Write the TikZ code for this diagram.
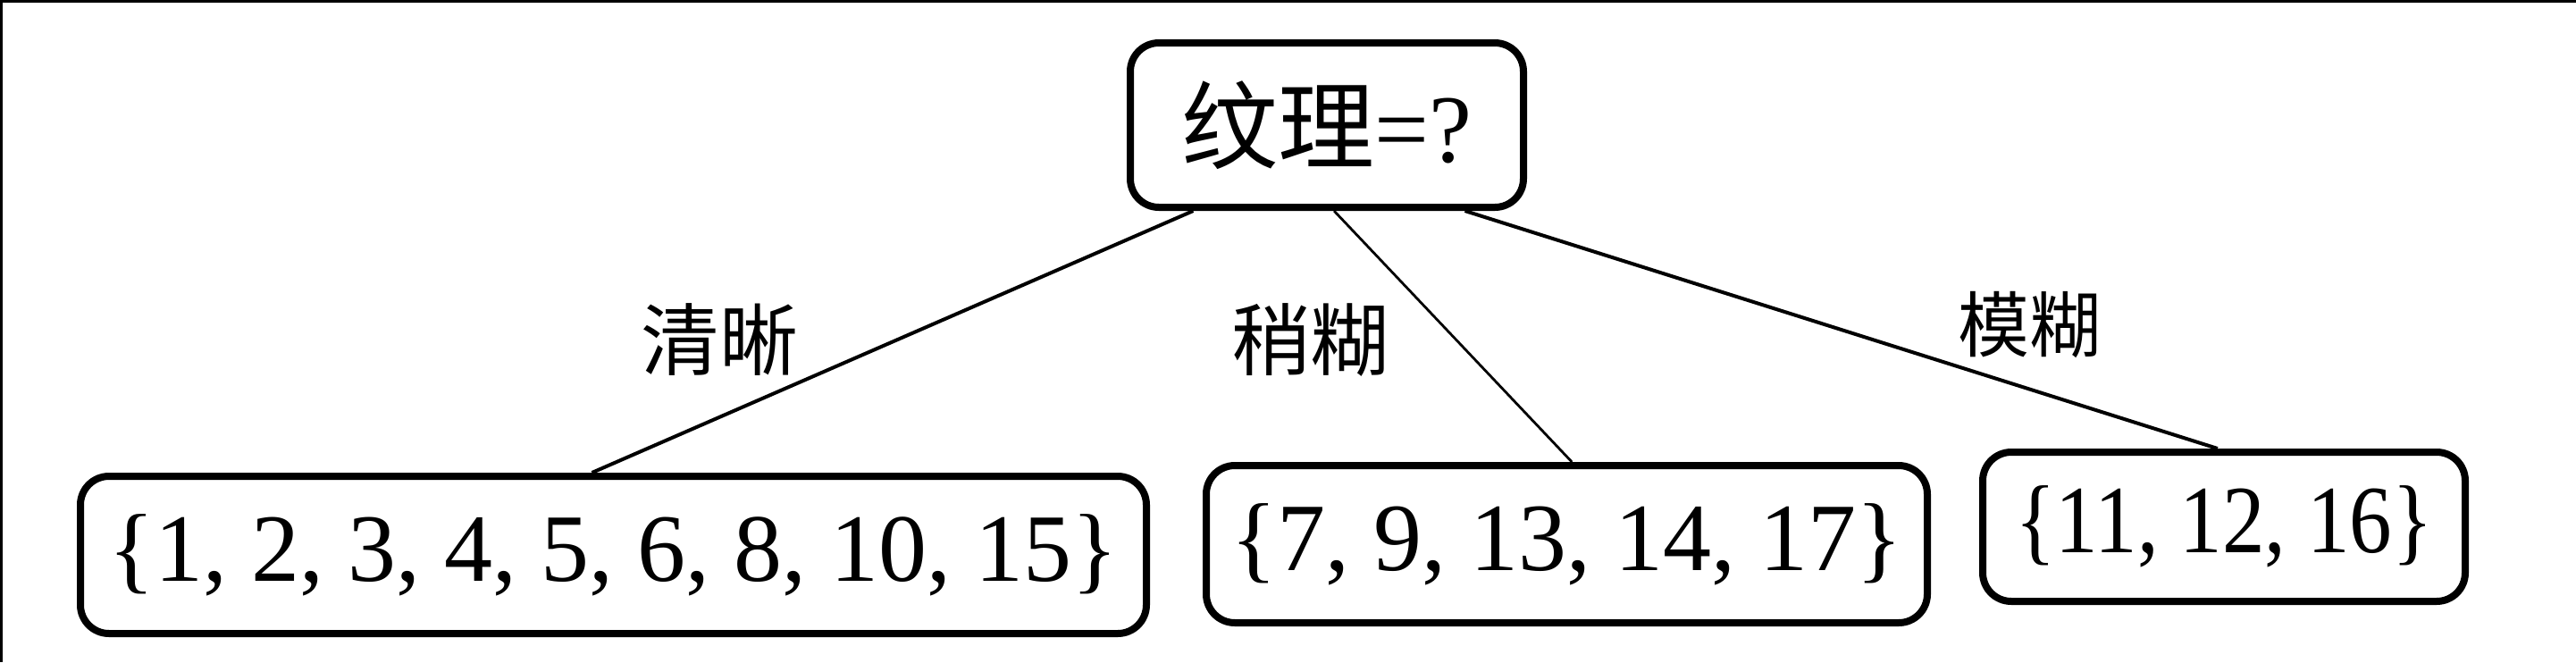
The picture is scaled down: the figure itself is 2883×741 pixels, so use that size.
\documentclass[tikz,border=0pt]{standalone}
\usepackage{fontspec}
\setmainfont{Liberation Serif}
\newfontfamily\cjk{Noto Sans CJK SC}
\newfontfamily\narrowserif{Liberation Serif}[FakeStretch=0.88]
\usetikzlibrary{calc}
\tikzset{
  treebox/.style={draw=black, line width=2pt, rounded corners=8pt, inner sep=0pt, fill=white},
  leafbox/.style={treebox, font=\fontsize{27}{32}\selectfont},
  edgelabel/.style={inner sep=0pt, font=\fontsize{22}{26}\selectfont\cjk},
  branch/.style={draw=black, line width=1pt},
  scanedge/.style={draw=black, line width=0.8pt}
}
\begin{document}
\begin{tikzpicture}[x=0.25pt, y=-0.25pt]
  \useasboundingbox (0,0) rectangle (2883,741);
  \fill[white] (0,0) rectangle (2883,741);
  \draw[scanedge] (0,1.5) -- (2883,1.5);
  \draw[scanedge] (1.5,0) -- (1.5,741);

  \node[treebox, minimum width=110pt, minimum height=46pt] (root) at (1485,140)
    {\fontsize{27}{32}\selectfont{\cjk 纹理}=?};

  \node[leafbox, minimum width=298.25pt, minimum height=44pt] (l1) at (686.5,621)
    {\{1, 2, 3, 4, 5, 6, 8, 10, 15\}};
  \node[leafbox, minimum width=201.75pt, minimum height=44pt] (l2) at (1753.5,609)
    {\{7, 9, 13, 14, 17\}};
  \node[leafbox, minimum width=135pt, minimum height=41.75pt] (l3) at (2489,589.5)
    {\narrowserif\{11, 12, 16\}};

  \coordinate (r1) at ($(root.south west)!0.166!(root.south east)$);
  \coordinate (r2) at ($(root.south west)!0.518!(root.south east)$);
  \coordinate (r3) at ($(root.south west)!0.845!(root.south east)$);
  \coordinate (t1) at ($(l1.north west)!0.48!(l1.north east)$);
  \coordinate (t2) at ($(l2.north west)!0.507!(l2.north east)$);
  \coordinate (t3) at ($(l3.north west)!0.487!(l3.north east)$);

  \draw[branch] (r1) -- (t1);
  \draw[branch, line width=0.7pt] (r2) -- (t2);
  \draw[branch] (r3) -- (t3);

  \node[edgelabel] (e1) at (805,380) {清晰};
  \node[edgelabel] (e2) at (1466,381) {稍糊};
  \node[edgelabel, font=\fontsize{20}{24}\selectfont\cjk] (e3) at (2271,364) {模糊};
\end{tikzpicture}
\end{document}
